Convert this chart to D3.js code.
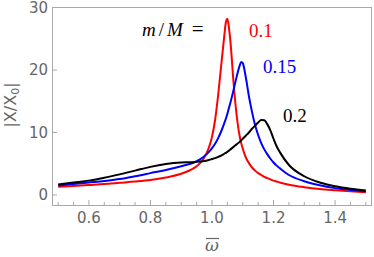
<!DOCTYPE html>
<meta charset="utf-8">
<style>
  body { margin: 0; background: #fff; }
  .tick-label { font-family: "DejaVu Sans", Verdana, sans-serif; font-size: 15px; fill: #666; }
  .note { font-family: "Liberation Serif", "Times New Roman", serif; font-size: 19px; }
</style>
<body>
<script src="https://d3js.org/d3.v7.min.js"></script>
<script>
// frequency ratio samples (shared by the three curves)
var omega = [0.5, 0.55, 0.6, 0.65, 0.7, 0.75, 0.8, 0.85, 0.9, 0.93, 0.95, 0.97, 0.99,
  1.0, 1.01, 1.02, 1.03, 1.04, 1.045, 1.05, 1.055, 1.06, 1.07, 1.08, 1.09, 1.095,
  1.1, 1.11, 1.12, 1.13, 1.14, 1.15, 1.16, 1.17, 1.18, 1.19, 1.2, 1.21, 1.22,
  1.25, 1.3, 1.35, 1.4, 1.45, 1.5];

// |X/X0|
var amp010 = [1.3, 1.45, 1.6, 1.75, 1.95, 2.15, 2.4, 2.8, 3.4, 4.0, 4.6, 5.6, 7.6,
  9.3, 12.0, 16.0, 20.8, 25.5, 27.6, 28.2, 26.8, 24.5, 18.0, 12.8, 9.4, 8.3,
  7.4, 6.0, 5.1, 4.4, 3.9, 3.5, 3.2, 2.9, 2.7, 2.5, 2.3, 2.15, 2.0,
  1.65, 1.25, 0.95, 0.75, 0.58, 0.45];
var amp015 = [1.5, 1.75, 2.0, 2.25, 2.55, 3.0, 3.5, 4.0, 4.6, 5.0, 5.4, 6.0, 6.9,
  7.5, 8.2, 9.1, 10.2, 11.5, 12.2, 13.0, 13.9, 14.8, 16.8, 18.9, 20.7, 21.3,
  21.1, 18.8, 15.8, 13.3, 11.2, 9.6, 8.3, 7.3, 6.5, 5.8, 5.2, 4.7, 4.3,
  3.2, 2.2, 1.55, 1.1, 0.8, 0.58];
var amp020 = [1.7, 2.0, 2.3, 2.75, 3.3, 3.9, 4.5, 4.95, 5.2, 5.25, 5.3, 5.4, 5.6,
  5.75, 5.9, 6.1, 6.3, 6.6, 6.75, 6.9, 7.1, 7.3, 7.7, 8.1, 8.5, 8.75,
  9.0, 9.5, 10.0, 10.6, 11.1, 11.6, 12.0, 11.95, 11.3, 10.3, 9.0, 7.8, 6.9,
  4.8, 3.0, 2.0, 1.4, 1.0, 0.72];

var ratios = ["0.1", "0.15", "0.2"];
var colors = ["#ff0000", "#0000ff", "#000000"];

var xTicks = [0.6, 0.8, 1.0, 1.2, 1.4];
var xMinor = d3.range(0.5, 1.5001, 0.05);
var yTicks = [0, 10, 20, 30];

var width = 374, height = 257;
var margin = {left: 52, right: 372, top: 7, bottom: 205};

var x = d3.scaleLinear().domain([0.48, 1.52]).range([margin.left, margin.right]);
var y = d3.scaleLinear().domain([-1.6, 30.08]).range([margin.bottom, margin.top]);

var svg = d3.select("body").append("svg")
    .attr("width", width)
    .attr("height", height);

// frame
svg.append("rect")
    .attr("x", margin.left + 0.5).attr("y", margin.top + 0.5)
    .attr("width", margin.right - margin.left - 1)
    .attr("height", margin.bottom - margin.top)
    .attr("fill", "none")
    .attr("stroke", "#a8a8a8")
    .attr("stroke-width", 1);

// x ticks (inward)
svg.append("g").selectAll("line")
    .data(xMinor)
    .enter().append("line")
    .attr("x1", function(d) { return x(d); })
    .attr("x2", function(d) { return x(d); })
    .attr("y1", margin.bottom)
    .attr("y2", function(d) {
      var major = xTicks.some(function(t) { return Math.abs(t - d) < 1e-6; });
      return margin.bottom - (major ? 5 : 3);
    })
    .attr("stroke", "#a8a8a8");

svg.append("g").selectAll("text")
    .data(xTicks)
    .enter().append("text")
    .attr("class", "tick-label")
    .attr("x", function(d) { return x(d); })
    .attr("y", margin.bottom + 18)
    .attr("text-anchor", "middle")
    .text(function(d) { return d.toFixed(1); });

// y ticks
svg.append("g").selectAll("line")
    .data(yTicks)
    .enter().append("line")
    .attr("x1", margin.left)
    .attr("x2", margin.left + 5)
    .attr("y1", function(d) { return y(d); })
    .attr("y2", function(d) { return y(d); })
    .attr("stroke", "#a8a8a8");

svg.append("g").selectAll("text")
    .data(yTicks)
    .enter().append("text")
    .attr("class", "tick-label")
    .attr("x", margin.left - 4)
    .attr("y", function(d) { return y(d); })
    .attr("dy", "0.36em")
    .attr("text-anchor", "end")
    .text(function(d) { return d; });

// axis labels
var yl = svg.append("text")
    .attr("class", "tick-label")
    .style("font-size", "16px")
    .attr("transform", "translate(16,105) rotate(-90)")
    .attr("text-anchor", "middle");
yl.append("tspan").text("|X/X");
yl.append("tspan").style("font-size", "11px").attr("dy", 3).text("0");
yl.append("tspan").attr("dy", -3).text("|");

svg.append("text")
    .attr("class", "tick-label")
    .attr("x", x(1.0))
    .attr("y", 251)
    .attr("text-anchor", "middle")
    .style("font-family", "'DejaVu Serif', serif")
    .style("font-style", "italic")
    .style("font-size", "17px")
    .text("\u03C9");
svg.append("line")
    .attr("x1", x(1.0) - 6).attr("x2", x(1.0) + 7)
    .attr("y1", 238.5).attr("y2", 238.5)
    .attr("stroke", "#666").attr("stroke-width", 1.2);

// curves
var series = [amp010, amp015, amp020];
var line = d3.line()
    .x(function(d, i) { return x(omega[i]); })
    .y(function(d) { return y(d); })
    .curve(d3.curveMonotoneX);

svg.append("g").selectAll("path")
    .data(series)
    .enter().append("path")
    .attr("d", line)
    .attr("fill", "none")
    .attr("stroke", function(d, i) { return colors[i]; })
    .attr("stroke-width", 2)
    .attr("stroke-linejoin", "round");

// annotations
var note = svg.append("text")
    .attr("class", "note")
    .attr("x", 142)
    .attr("y", 36);
note.append("tspan").style("font-style", "italic").text("m");
note.append("tspan").attr("dx", 3).text("/");
note.append("tspan").attr("dx", 3).style("font-style", "italic").text("M");
note.append("tspan").attr("dx", 9).style("font-size", "21px").text("=");

var labelPos = [[249, 36.5], [263, 72.5], [283, 121.5]];
svg.append("g").selectAll("text")
    .data(ratios)
    .enter().append("text")
    .attr("class", "note")
    .attr("x", function(d, i) { return labelPos[i][0]; })
    .attr("y", function(d, i) { return labelPos[i][1]; })
    .attr("fill", function(d, i) { return colors[i]; })
    .text(function(d) { return d; });
</script>
</body>
</html>
